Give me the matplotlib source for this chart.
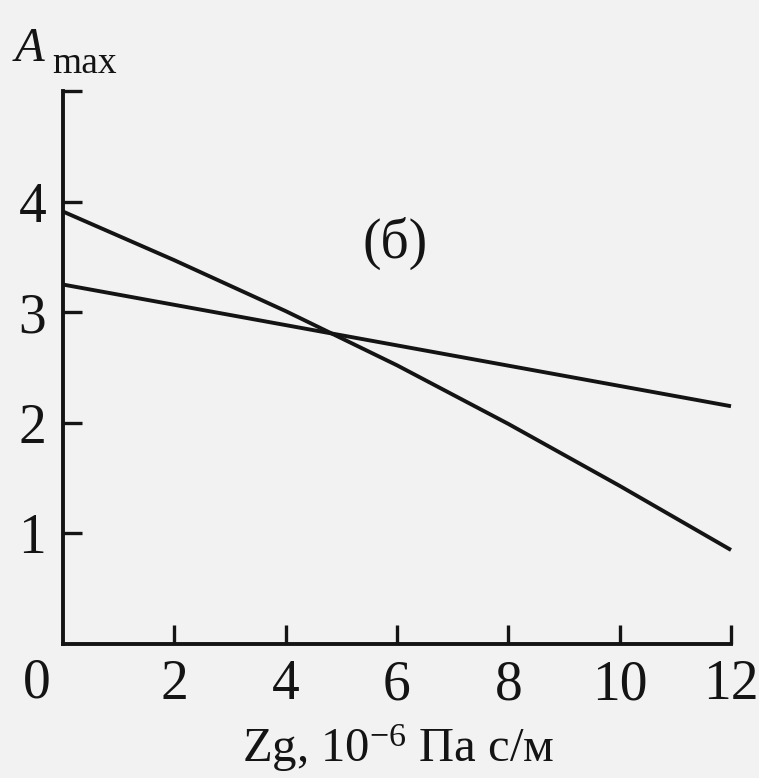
import matplotlib
matplotlib.use("Agg")
import matplotlib.pyplot as plt

# data
line_a_x = [0, 2, 4, 6, 8, 10, 12]
line_a_y = [3.91, 3.47, 3.01, 2.52, 1.99, 1.43, 0.85]
line_b_x = [0, 12]
line_b_y = [3.25, 2.15]
xticks = [2, 4, 6, 8, 10, 12]
xticklabels = ["2", "4", "6", "8", "10", "12"]
yticks = [1, 2, 3, 4, 5]
yticklabels = ["1", "2", "3", "4", ""]

plt.rcParams['font.family'] = ['Liberation Serif', 'DejaVu Serif']
plt.rcParams['mathtext.fontset'] = 'custom'
plt.rcParams['mathtext.rm'] = 'Liberation Serif'
plt.rcParams['mathtext.it'] = 'Liberation Serif:italic'

ink = '#141414'
bg = '#f2f2f2'
fig = plt.figure(figsize=(7.59, 7.78), dpi=100, facecolor=bg)
ax = fig.add_axes([63/759, (778-644)/778, (731-63)/759, (644-91)/778])
ax.set_facecolor(bg)

ax.plot(line_a_x, line_a_y, color=ink, lw=2.8, clip_on=False,
        solid_capstyle='butt', solid_joinstyle='round')
ax.plot(line_b_x, line_b_y, color=ink, lw=2.8, clip_on=False, solid_capstyle='butt')

ax.set_xlim(0, 12)
ax.set_ylim(0, 5)
for s in ['top', 'right']:
    ax.spines[s].set_visible(False)
for s in ['left', 'bottom']:
    ax.spines[s].set_linewidth(2.8)
    ax.spines[s].set_color(ink)

ax.set_xticks(xticks)
ax.set_xticklabels(xticklabels)
ax.set_yticks(yticks)
ax.set_yticklabels(yticklabels)
ax.tick_params(direction='in', length=14, width=2.4, color=ink, labelsize=40,
               labelcolor=ink)
ax.tick_params(axis='x', pad=11)
ax.tick_params(axis='y', pad=12)

ax.annotate("0", xy=(0, 0), xycoords='data', xytext=(-26, -14),
            textcoords='offset pixels', ha='center', va='top', fontsize=40, color=ink)
ax.text(5.96, 3.62, "(б)", ha='center', va='center', fontsize=40, color=ink)

fig.text(398/759, 1-762/778, "Zg, 10$^{-6}$ Па с/м", ha='center', va='baseline',
         fontsize=35, color=ink)
fig.text(15/759, 1-61/778, "A", ha='left', va='baseline', fontsize=35,
         fontstyle='italic', color=ink)
fig.text(52/759, 1-73/778, "max", ha='left', va='baseline', fontsize=27, color=ink)

fig.savefig("out.png", dpi=100, facecolor=bg)
